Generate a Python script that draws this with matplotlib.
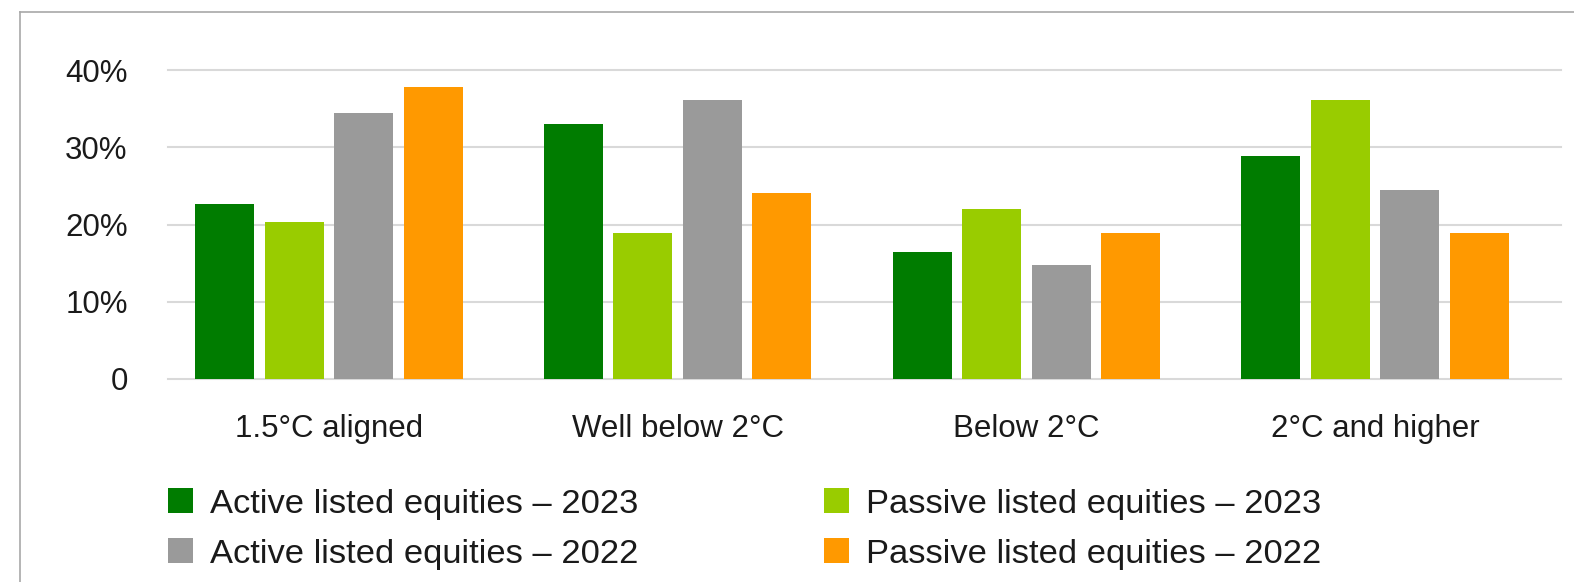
import matplotlib
matplotlib.use("Agg")
import matplotlib.pyplot as plt
from matplotlib.patches import Rectangle
from matplotlib.lines import Line2D
import numpy as np

plt.rcParams["font.family"] = ["Liberation Sans", "DejaVu Sans"]

categories = ["1.5°C aligned", "Well below 2°C", "Below 2°C", "2°C and higher"]
series_names = [
    "Active listed equities – 2023",
    "Passive listed equities – 2023",
    "Active listed equities – 2022",
    "Passive listed equities – 2022",
]
active_2023 = [22.7, 33.0, 16.5, 28.9]
passive_2023 = [20.3, 18.9, 22.0, 36.1]
active_2022 = [34.5, 36.1, 14.8, 24.5]
passive_2022 = [37.9, 24.1, 18.9, 18.9]
y_ticks = [0, 10, 20, 30, 40]
y_tick_labels = ["0", "10%", "20%", "30%", "40%"]

colors = ["#007C00", "#99CC00", "#9A9A9A", "#FF9900"]
text_color = "#1A1A1A"
fs = 22.5
legend_fs = 24.8

W, H = 1574, 582
fig = plt.figure(figsize=(W / 100, H / 100), dpi=100)
fig.patch.set_facecolor("white")

# outer frame: top and left edges
fig.add_artist(Line2D([20 / W, 1.0], [1 - 12 / H, 1 - 12 / H], transform=fig.transFigure,
                      color="#A8A8A8", lw=1.2))
fig.add_artist(Line2D([20 / W, 20 / W], [0, 1 - 12 / H], transform=fig.transFigure,
                      color="#A8A8A8", lw=1.2))

ax_l, ax_r = 168, 1561
ax_t, ax_b = 70.3, 379
ax = fig.add_axes([ax_l / W, 1 - ax_b / H, (ax_r - ax_l) / W, (ax_b - ax_t) / H])

series = [active_2023, passive_2023, active_2022, passive_2022]
x = np.arange(len(categories))
pitch = 0.1993
width = 0.169
for i, (vals, col) in enumerate(zip(series, colors)):
    ax.bar(x + (i - 1.5) * pitch, vals, width=width, color=col, zorder=3, linewidth=0)

ax.set_xlim(-0.4617, 3.533)
ax.set_ylim(0, 40)
ax.set_yticks(y_ticks)
ax.set_yticklabels(y_tick_labels)
ax.set_xticks(x)
ax.set_xticklabels(categories)
ax.grid(axis="y", color="#D9D9D9", lw=1.5, zorder=0)
for gl in ax.get_ygridlines():
    gl.set_clip_on(False)
for s in ax.spines.values():
    s.set_visible(False)
ax.tick_params(axis="both", length=0, labelsize=fs, labelcolor=text_color)
ax.tick_params(axis="y", pad=29)
ax.tick_params(axis="x", pad=25)

# legend, two columns
sq = 25
col_x = [168, 824]
row_y = [500.5, 550.5]
for k, name in enumerate(series_names):
    r, c = divmod(k, 2)
    cx, cy = col_x[c], row_y[r]
    fig.add_artist(Rectangle((cx / W, 1 - (cy + sq / 2) / H), sq / W, sq / H,
                             transform=fig.transFigure, facecolor=colors[k], edgecolor="none"))
    fig.text((cx + sq + 17) / W, 1 - cy / H, name, fontsize=legend_fs, color=text_color,
             ha="left", va="center_baseline")

fig.savefig("out.png", dpi=100, facecolor="white")
